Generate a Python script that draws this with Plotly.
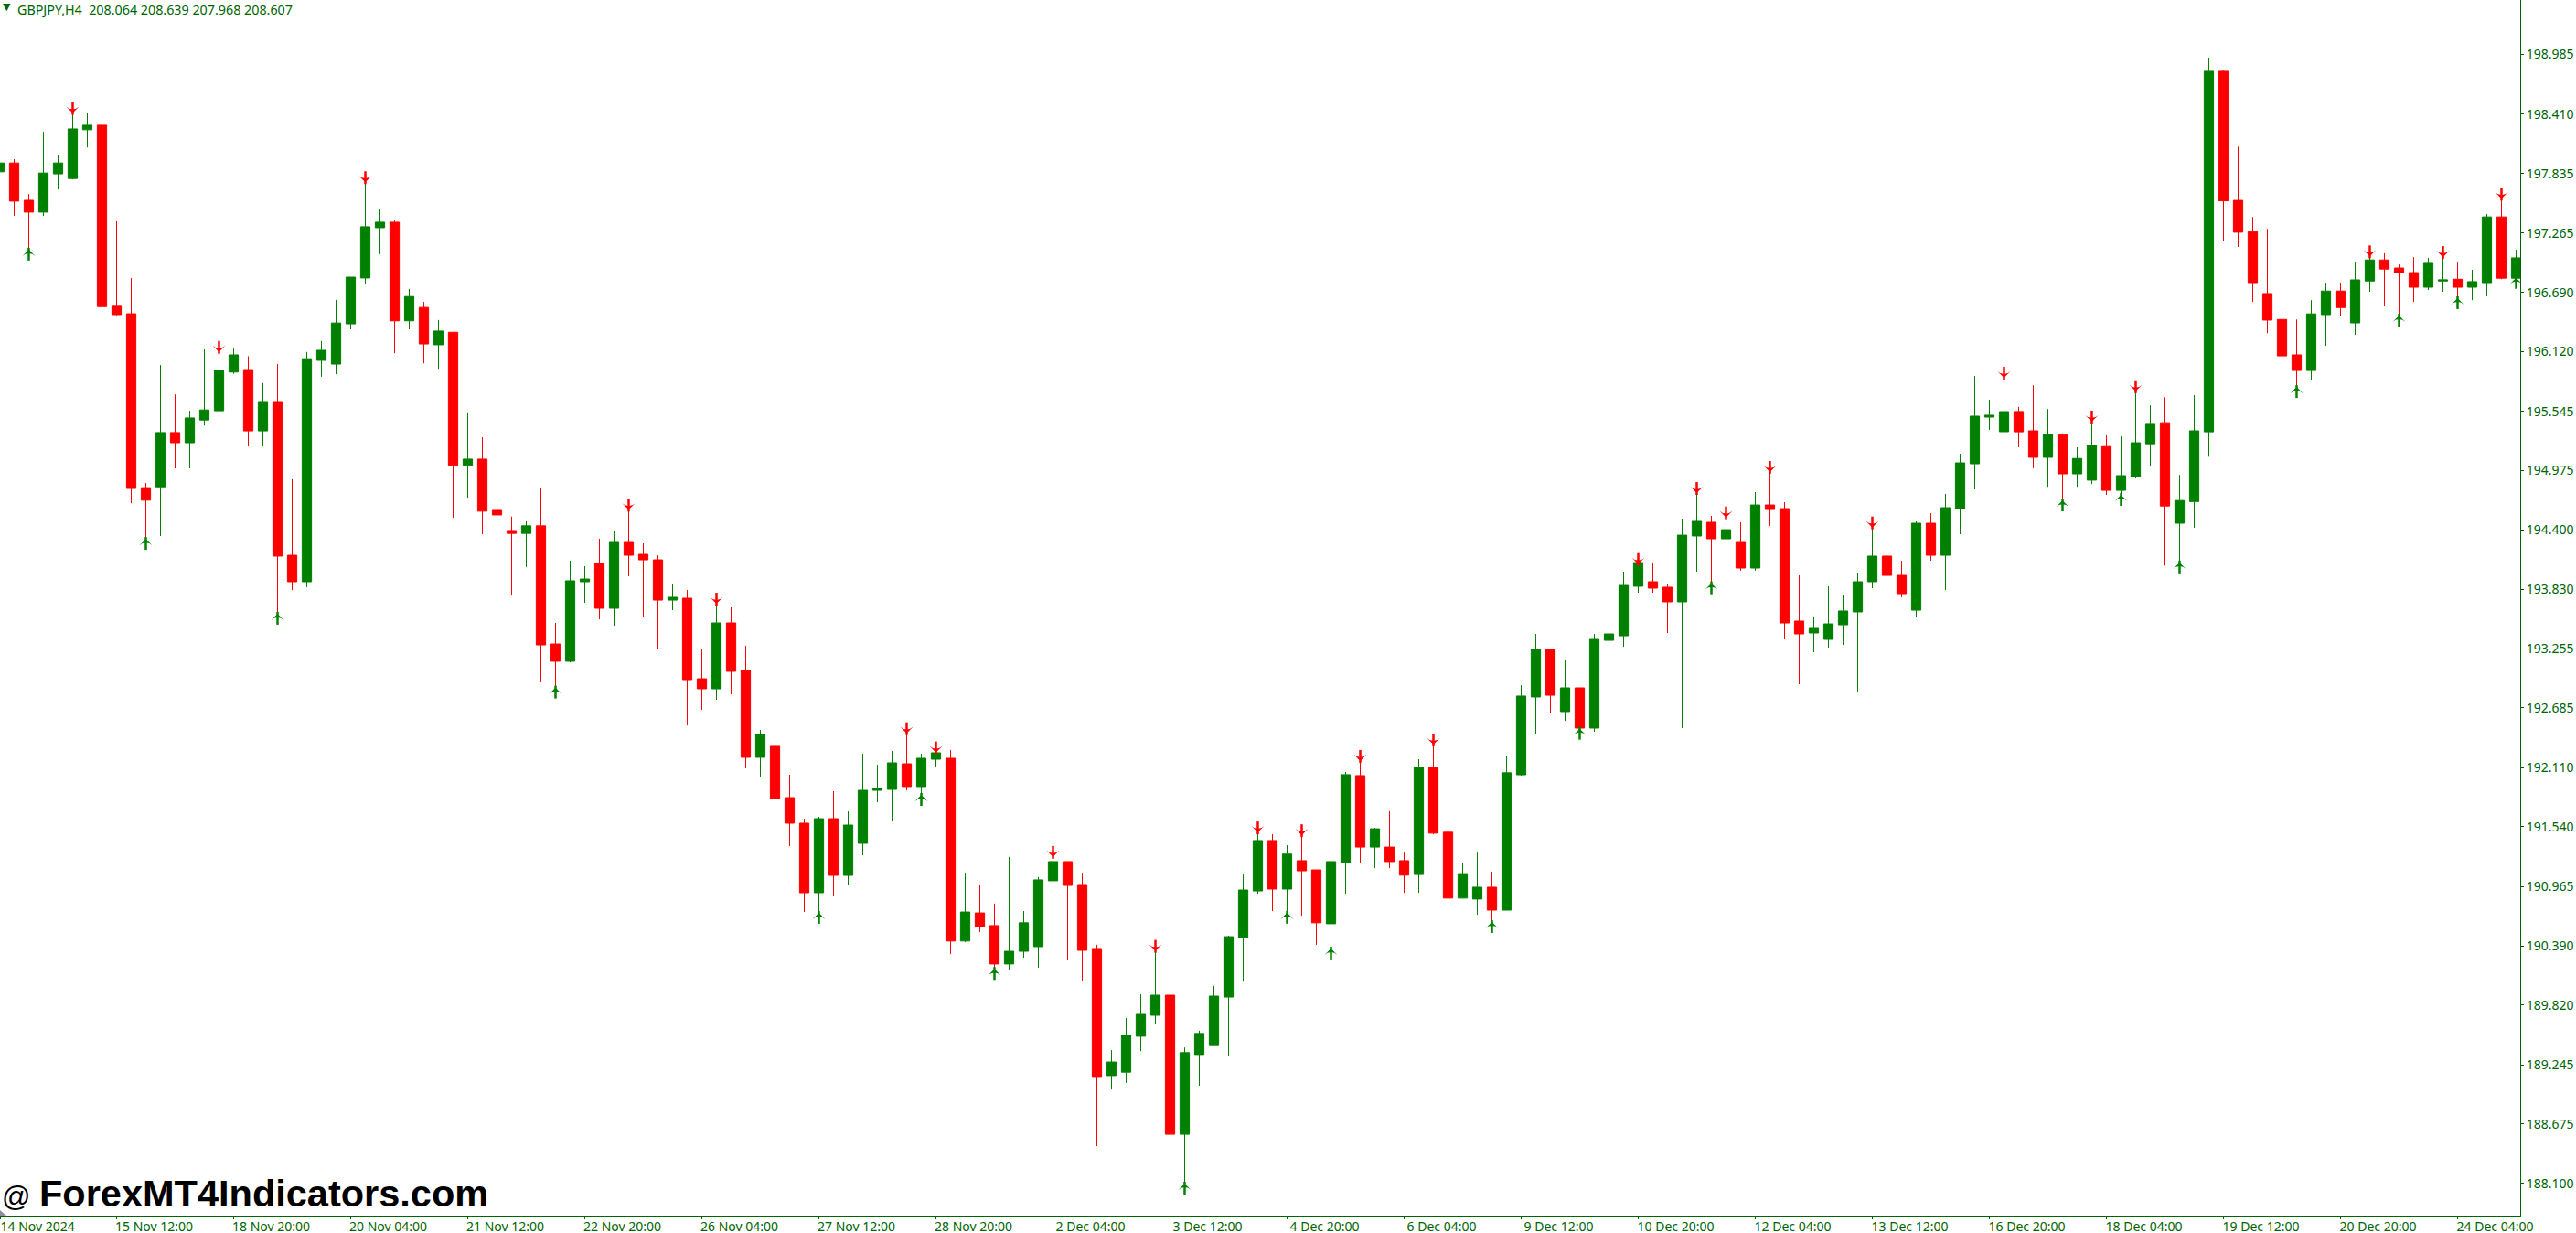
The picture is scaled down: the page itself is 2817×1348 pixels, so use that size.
import plotly.graph_objects as go

# GBPJPY H4 candles
opens = [197.854,197.939,197.579,197.465,197.834,197.789,198.259,198.303,196.566,196.485,
    194.809,194.817,195.340,195.242,195.461,195.550,195.923,195.947,195.356,195.639,
    194.157,193.902,196.036,196.000,196.388,196.830,197.315,197.368,196.417,196.546,
    196.186,196.307,195.024,195.084,194.590,194.396,194.368,194.441,193.302,193.135,
    193.902,194.078,193.646,194.281,194.166,194.113,193.725,193.743,192.967,192.870,
    193.505,193.046,192.209,192.315,191.821,191.574,190.904,191.618,191.071,191.380,
    191.891,191.900,192.147,191.927,192.191,192.200,190.438,190.709,190.587,190.217,
    190.339,190.384,191.019,191.204,190.983,190.366,189.141,189.174,189.520,189.722,
    189.916,188.575,189.344,189.430,189.898,190.471,190.921,191.407,190.939,191.213,
    191.124,190.605,191.195,192.033,191.344,191.344,191.213,191.079,192.113,191.487,
    190.852,190.843,190.957,190.736,192.041,192.791,193.249,192.650,192.879,192.491,
    193.337,193.381,193.858,193.902,193.849,193.708,194.343,194.475,194.316,194.281,
    194.034,194.642,194.607,193.523,193.408,193.346,193.487,193.611,193.902,194.149,
    193.963,193.628,194.466,194.157,194.607,195.039,195.489,195.348,195.543,195.357,
    195.101,195.320,194.942,194.881,195.205,194.783,194.915,195.232,195.435,194.466,
    194.675,195.347,198.823,197.578,197.277,196.680,196.430,196.089,195.938,196.477,
    196.704,196.397,196.801,197.004,196.926,196.882,196.741,196.801,196.818,196.741,
    196.785,197.419,196.828]

highs = [197.960,197.975,197.639,198.239,198.012,198.425,198.417,198.364,197.376,196.830,
    194.854,195.991,195.708,195.550,196.141,196.129,196.149,196.076,195.817,196.000,
    194.890,196.117,196.222,196.619,196.838,197.769,197.490,197.384,196.724,196.599,
    196.425,196.307,195.534,195.295,194.943,194.530,194.485,194.809,193.505,194.105,
    194.052,194.316,194.387,194.616,194.272,194.157,193.875,193.822,193.258,193.705,
    193.655,193.285,192.473,192.614,192.041,191.618,191.636,191.882,191.688,192.244,
    192.138,192.270,192.456,192.244,192.265,192.280,191.097,190.974,190.799,191.249,
    190.727,191.055,191.264,191.204,191.097,190.402,189.386,189.696,189.925,190.354,
    190.241,189.412,189.573,190.006,190.489,191.079,191.496,191.469,191.362,191.472,
    191.124,191.222,192.068,192.188,191.529,191.690,191.290,192.191,192.337,191.565,
    191.195,191.290,191.106,192.218,192.905,193.399,193.249,193.143,192.879,193.399,
    193.664,193.999,194.087,194.087,193.875,194.510,194.778,194.537,194.543,194.475,
    194.766,194.978,194.669,193.963,193.567,193.858,193.778,193.990,194.440,194.299,
    194.105,194.484,194.563,194.748,195.136,195.886,195.656,195.895,195.587,195.796,
    195.566,195.333,195.198,195.445,195.313,195.303,195.749,195.603,195.681,194.932,
    195.701,198.955,198.830,198.097,197.419,197.304,196.474,196.430,196.616,196.785,
    196.785,196.987,197.048,197.068,196.960,197.031,197.024,197.041,196.987,196.909,
    197.446,197.605,197.102]

lows = [197.820,197.429,197.081,197.429,197.684,197.781,198.089,196.457,196.469,194.659,
    194.307,194.343,194.995,194.995,195.408,195.323,195.906,195.206,195.206,193.578,
    193.821,193.849,195.878,195.902,196.336,196.777,197.060,196.105,196.336,196.008,
    195.955,194.518,194.712,194.360,194.465,193.769,194.044,192.932,192.897,193.125,
    193.699,193.540,193.479,193.955,193.567,193.249,193.628,192.517,192.667,192.764,
    192.817,192.103,192.024,191.768,191.353,190.719,190.720,190.868,190.974,191.265,
    191.777,191.591,191.891,191.838,192.121,190.313,190.429,190.524,190.161,190.164,
    190.277,190.181,190.921,190.259,190.056,188.461,189.007,189.070,189.377,189.642,
    188.539,188.089,189.043,189.430,189.335,190.047,190.894,190.727,190.697,190.682,
    190.402,190.354,190.894,191.186,191.141,191.141,190.903,190.903,191.469,190.700,
    190.850,190.691,190.608,190.736,192.032,192.429,192.632,192.561,192.470,192.456,
    193.170,193.276,193.796,193.796,193.408,192.491,193.999,193.866,194.237,194.008,
    194.008,194.440,193.346,192.914,193.223,193.267,193.293,192.844,193.840,193.628,
    193.752,193.558,194.105,193.822,194.360,194.792,195.366,195.330,195.198,194.996,
    194.817,194.669,194.817,194.844,194.739,194.736,194.898,195.020,194.058,194.078,
    194.422,195.107,197.190,197.129,196.599,196.299,195.762,195.765,195.850,196.177,
    196.467,196.282,196.697,196.565,196.457,196.599,196.714,196.697,196.626,196.616,
    196.653,196.818,196.812]

closes = [197.939,197.571,197.465,197.842,197.939,198.267,198.303,196.554,196.477,194.801,
    194.688,195.340,195.242,195.481,195.558,195.939,196.089,195.356,195.639,194.149,
    193.902,196.052,196.133,196.396,196.838,197.324,197.368,196.417,196.651,196.194,
    196.319,195.024,195.084,194.582,194.546,194.368,194.441,193.293,193.135,193.911,
    193.928,193.646,194.281,194.157,194.113,193.725,193.752,192.958,192.870,193.505,
    193.038,192.209,192.429,191.812,191.574,190.904,191.618,191.071,191.556,191.891,
    191.909,192.156,191.927,192.200,192.253,190.438,190.718,190.578,190.217,190.339,
    190.614,191.028,191.204,190.974,190.348,189.132,189.272,189.529,189.731,189.916,
    188.575,189.362,189.547,189.907,190.480,190.930,191.407,190.939,191.276,191.115,
    190.614,191.204,192.042,191.344,191.520,191.204,191.073,192.113,191.478,190.852,
    191.088,190.957,190.736,192.060,192.800,193.249,192.808,192.879,192.491,193.346,
    193.399,193.866,194.087,193.840,193.708,194.351,194.484,194.316,194.404,194.034,
    194.642,194.598,193.505,193.399,193.452,193.496,193.620,193.902,194.149,193.963,
    193.787,194.466,194.157,194.616,195.048,195.498,195.507,195.542,195.347,195.101,
    195.320,194.942,195.090,195.215,194.783,194.925,195.242,195.428,194.632,194.685,
    195.357,198.823,197.574,197.271,196.785,196.424,196.079,195.938,196.484,196.704,
    196.545,196.812,197.004,196.916,196.882,196.741,196.980,196.812,196.741,196.795,
    197.419,196.828,197.024]

# indicator arrows (centre of each glyph)
down_idx = [5,15,25,43,49,62,64,72,79,86,89,93,98,112,116,118,121,128,137,143,146,162,167,171]
down_price = [198.465,196.161,197.797,194.640,193.734,192.485,192.300,191.293,190.387,191.529,
    191.502,192.218,192.376,194.116,194.801,194.566,195.004,194.469,195.912,195.489,195.782,
    197.082,197.075,197.638]
up_idx = [2,10,19,38,56,63,68,81,88,91,102,108,117,141,145,149,157,164,168,172]
up_price = [197.060,194.271,193.550,192.838,190.666,191.803,190.125,188.056,190.667,190.322,
    190.578,192.441,193.843,194.642,194.696,194.044,195.735,196.424,196.592,196.788]

# axes
price_ticks = [198.985,198.410,197.835,197.265,196.690,196.120,195.545,194.975,194.400,193.830,
    193.255,192.685,192.110,191.540,190.965,190.390,189.820,189.245,188.675,188.100]
date_ticks = [0.04,8,16,24,32,40,48,56,64,72,80,88,96,104,112,120,128,136,144,152,160,168]
date_labels = ["14 Nov 2024","15 Nov 12:00","18 Nov 20:00","20 Nov 04:00","21 Nov 12:00",
    "22 Nov 20:00","26 Nov 04:00","27 Nov 12:00","28 Nov 20:00","2 Dec 04:00","3 Dec 12:00",
    "4 Dec 20:00","6 Dec 04:00","9 Dec 12:00","10 Dec 20:00","12 Dec 04:00","13 Dec 12:00",
    "16 Dec 20:00","18 Dec 04:00","19 Dec 12:00","20 Dec 20:00","24 Dec 04:00"]

W, H = 2817, 1348
PLOT_W, PLOT_H = 2756, 1329
GREEN = "#008000"
RED = "#ff0000"
AXIS = "#006400"
FONT = "Noto Sans"
HEAD_OFFSET = 0.044  # about 5px, the arrowhead marker is drawn from its tip

fig = go.Figure()

fig.add_trace(go.Candlestick(
    x=list(range(len(opens))), open=opens, high=highs, low=lows, close=closes,
    increasing=dict(line=dict(color=GREEN, width=1), fillcolor=GREEN),
    decreasing=dict(line=dict(color=RED, width=1), fillcolor=RED),
    whiskerwidth=0, showlegend=False,
))

# arrow = stem + head
for idx, price, color, angle, sign in [(down_idx, down_price, RED, 180, -1),
                                       (up_idx, up_price, GREEN, 0, 1)]:
    fig.add_trace(go.Scatter(x=idx, y=price, mode="markers", showlegend=False,
        marker=dict(symbol="line-ns", size=10, line=dict(color=color, width=2.5))))
    fig.add_trace(go.Scatter(x=idx, y=[p + sign * HEAD_OFFSET for p in price], mode="markers",
        showlegend=False,
        marker=dict(symbol="arrow-wide", size=10, angle=angle, color=color, line=dict(width=0))))

fig.update_layout(
    width=W, height=H,
    margin=dict(l=0, r=W - PLOT_W, t=0, b=H - PLOT_H, pad=0, autoexpand=False),
    paper_bgcolor="white", plot_bgcolor="white",
    boxgap=0.36, boxgroupgap=0,
    showlegend=False,
    font=dict(family=FONT, size=14, color=AXIS),
    xaxis=dict(
        range=[0.03125, 172.28125], rangeslider=dict(visible=False), automargin=False,
        tickmode="array", tickvals=date_ticks, ticktext=date_labels,
        ticks="outside", ticklen=3, tickwidth=1, tickcolor=AXIS,
        ticklabelshift=41, ticklabelstandoff=-4,
        showgrid=False, zeroline=False, showline=True, linecolor=AXIS, linewidth=1,
    ),
    yaxis=dict(
        side="right", range=[187.791, 199.51], automargin=False,
        tickmode="array", tickvals=price_ticks, ticktext=["%.3f" % p for p in price_ticks],
        ticks="outside", ticklen=3, tickwidth=1, tickcolor=AXIS,
        showgrid=False, zeroline=False, showline=True, linecolor=AXIS, linewidth=1,
    ),
    shapes=[dict(type="path", xref="paper", yref="paper", layer="above", line=dict(width=0),
        fillcolor="#8a9099", path="M0,0.0 L0.0025,0 L0,0.0045 Z")],
    annotations=[
        dict(text="▼", xref="paper", yref="paper", x=1 / PLOT_W, y=1, xanchor="left", yanchor="top",
            yshift=1, showarrow=False, font=dict(family="DejaVu Sans", size=11, color=AXIS)),
        dict(text="GBPJPY,H4\u00a0\u00a0208.064 208.639 207.968 208.607", xref="paper", yref="paper",
            x=17 / PLOT_W, y=1, xanchor="left", yanchor="top", yshift=1, showarrow=False,
            font=dict(family=FONT, size=14.3, color=AXIS)),
        dict(text="@", xref="paper", yref="paper", x=0, y=0, xanchor="left", yanchor="bottom",
            yshift=1, showarrow=False, font=dict(family="Liberation Sans", size=31, color="black")),
        dict(text="<b>ForexMT4Indicators.com</b>", xref="paper", yref="paper", x=41 / PLOT_W, y=0,
            xanchor="left", yanchor="bottom", yshift=-1, showarrow=False,
            font=dict(family="Liberation Sans", size=41.5, color="black")),
    ],
)

fig.write_html("out.html", config={"displayModeBar": False},
    post_script="document.body.style.margin='0';document.body.style.overflow='hidden';")
